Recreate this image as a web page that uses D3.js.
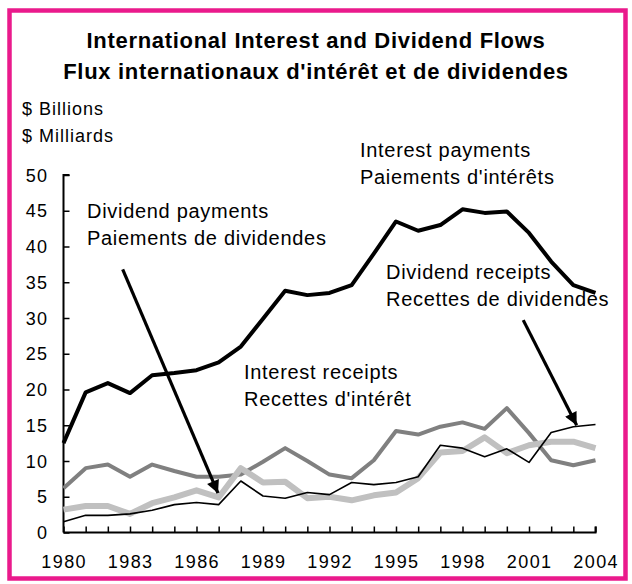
<!DOCTYPE html>
<html>
<head>
<meta charset="utf-8">
<script src="https://cdn.jsdelivr.net/npm/d3@7/dist/d3.min.js"></script>
<style>
  html, body { margin: 0; padding: 0; background: #fff; }
  svg { display: block; font-family: "Liberation Sans", Arial, sans-serif; }
</style>
</head>
<body>
<svg id="chart" width="632" height="584"></svg>
<script>
const years = d3.range(1980, 2005);
const interestPayments = [12.5, 19.6, 20.9, 19.5, 22.0, 22.3, 22.7, 23.8, 26.0, 29.9, 33.8, 33.2, 33.5, 34.6, 39.0, 43.5, 42.2, 43.0, 45.2, 44.7, 44.9, 41.9, 37.9, 34.6, 33.5];
const interestReceipts = [6.2, 9.0, 9.5, 7.8, 9.5, 8.6, 7.8, 7.8, 8.1, 9.9, 11.8, 10.0, 8.1, 7.6, 10.1, 14.2, 13.7, 14.8, 15.4, 14.5, 17.4, 13.9, 10.1, 9.4, 10.1];
const dividendPayments = [3.2, 3.7, 3.7, 2.6, 4.1, 4.9, 5.9, 4.9, 9.0, 7.0, 7.1, 4.8, 5.0, 4.5, 5.2, 5.6, 7.6, 11.2, 11.4, 13.3, 11.1, 12.2, 12.7, 12.7, 11.8];
const dividendReceipts = [1.5, 2.4, 2.4, 2.6, 3.1, 3.9, 4.2, 3.9, 7.2, 5.1, 4.8, 5.6, 5.3, 7.0, 6.7, 7.0, 7.8, 12.2, 11.8, 10.6, 11.7, 9.8, 14.0, 14.8, 15.1];
const yTicks = [0, 5, 10, 15, 20, 25, 30, 35, 40, 45, 50];
const xTickLabels = [1980, 1983, 1986, 1989, 1992, 1995, 1998, 2001, 2004];

const svg = d3.select("#chart");
const x = d3.scaleLinear().domain([1980, 2004]).range([63.5, 595.5]);
const y = d3.scaleLinear().domain([0, 50]).range([532.5, 175]);

// border
svg.append("rect").attr("x", 9.5).attr("y", 10.5).attr("width", 616).attr("height", 568)
  .attr("fill", "none").attr("stroke", "#ea1a8c").attr("stroke-width", 4.5);

// titles
svg.append("text").attr("x", 316).attr("y", 48).attr("text-anchor", "middle")
  .attr("font-size", 22).attr("font-weight", "bold").attr("letter-spacing", 0.7)
  .text("International Interest and Dividend Flows");
svg.append("text").attr("x", 316).attr("y", 79).attr("text-anchor", "middle")
  .attr("font-size", 22).attr("font-weight", "bold").attr("letter-spacing", 0.7)
  .text("Flux internationaux d'intérêt et de dividendes");
svg.append("text").attr("x", 22).attr("y", 115).attr("font-size", 18).attr("letter-spacing", 1)
  .text("$ Billions");
svg.append("text").attr("x", 22).attr("y", 142).attr("font-size", 18).attr("letter-spacing", 1)
  .text("$ Milliards");

// axes
const yAxis = svg.append("g").attr("transform", "translate(63.5,0)")
  .call(d3.axisRight(y).tickValues(yTicks).tickSize(6).tickFormat(""));
yAxis.select(".domain").attr("d", `M6,${y(50)}H0V${y(0)}`).attr("stroke", "#000").attr("stroke-width", 2);
yAxis.selectAll(".tick line").attr("stroke", "#000").attr("stroke-width", 1.5);
svg.append("g").selectAll("text").data(yTicks).join("text")
  .attr("x", 48.2).attr("y", d => y(d) + 6.5).attr("text-anchor", "end")
  .attr("font-size", 18).attr("letter-spacing", 1.2).text(d => d);

const xAxis = svg.append("g").attr("transform", `translate(0,${y(0)})`)
  .call(d3.axisTop(x).tickValues(years).tickSize(6).tickFormat(""));
xAxis.select(".domain").attr("d", `M${x(1980)},0H${x(2004)}V-6`).attr("stroke", "#000").attr("stroke-width", 2);
xAxis.selectAll(".tick line").attr("stroke", "#000").attr("stroke-width", 1.5);
svg.append("g").selectAll("text").data(xTickLabels).join("text")
  .attr("x", d => x(d) + 0.7).attr("y", 568).attr("text-anchor", "middle")
  .attr("font-size", 18).attr("letter-spacing", 1.4).text(d => d);

// lines
const line = d3.line().x((d, i) => x(years[i])).y(d => y(d));
const series = [
  { values: interestReceipts, color: "#808080", width: 4 },
  { values: dividendPayments, color: "#c0c0c0", width: 6 },
  { values: dividendReceipts, color: "#000", width: 1.6 },
  { values: interestPayments, color: "#000", width: 4 }
];
svg.append("g").selectAll("path").data(series).join("path")
  .attr("d", d => line(d.values)).attr("fill", "none")
  .attr("stroke", d => d.color).attr("stroke-width", d => d.width)
  .attr("stroke-linejoin", "round");

// labels
const labels = [
  { x: 360, y: 157, lines: ["Interest payments", "Paiements d'intérêts"] },
  { x: 87, y: 218, lines: ["Dividend payments", "Paiements de dividendes"] },
  { x: 386, y: 279, lines: ["Dividend receipts", "Recettes de dividendes"] },
  { x: 244, y: 379, lines: ["Interest receipts", "Recettes d'intérêt"] }
];
labels.forEach(l => {
  l.lines.forEach((t, i) => {
    svg.append("text").attr("x", l.x).attr("y", l.y + i * 27.3)
      .attr("font-size", 20).attr("letter-spacing", 0.7).text(t);
  });
});

// arrows (in data coordinates)
const defs = svg.append("defs");
defs.append("marker").attr("id", "ah").attr("viewBox", "0 0 10 10").attr("refX", 10).attr("refY", 5)
  .attr("markerWidth", 5).attr("markerHeight", 4).attr("orient", "auto").attr("markerUnits", "strokeWidth")
  .append("path").attr("d", "M0,0L10,5L0,10Z").attr("fill", "#000");
const arrows = [
  { from: [1982.67, 36.8], to: [1986.97, 5.5] },
  { from: [2000.74, 29.7], to: [2003.15, 15.0] }
];
svg.append("g").selectAll("line").data(arrows).join("line")
  .attr("x1", d => x(d.from[0])).attr("y1", d => y(d.from[1]))
  .attr("x2", d => x(d.to[0])).attr("y2", d => y(d.to[1]))
  .attr("stroke", "#000").attr("stroke-width", 3.2).attr("marker-end", "url(#ah)");
</script>
</body>
</html>
